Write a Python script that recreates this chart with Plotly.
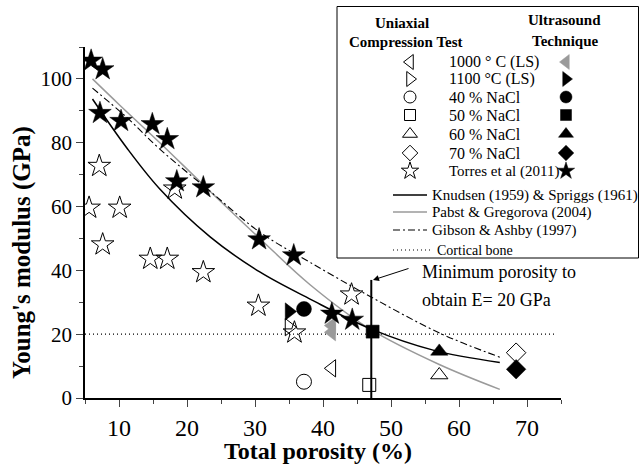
import plotly.graph_objects as go

FONT = "Liberation Serif"
W, H = 640, 468
GRAY = "#9a9a9a"

# ---------------- data ----------------
torres_comp_x = [7.1, 5.6, 10.1, 7.6, 18.2, 14.6, 17.1, 22.4, 30.5, 35.8, 44.2]
torres_comp_y = [72.7, 59.6, 59.6, 48.1, 65.6, 43.6, 43.6, 39.4, 28.9, 20.5, 32.4]
torres_us_x = [5.9, 7.6, 7.2, 10.3, 14.9, 17.1, 18.5, 22.4, 30.6, 35.7, 41.3, 44.3]
torres_us_y = [105.7, 103.0, 89.3, 86.8, 85.8, 81.1, 67.9, 66.0, 49.7, 44.7, 26.4, 24.5]

ls1000_comp_x = [41.3]
ls1000_comp_y = [9.3]
ls1000_us_x = [41.3, 41.3]
ls1000_us_y = [22.7, 20.6]
ls1100_comp_x = [35.0]
ls1100_comp_y = [22.2]
ls1100_us_x = [35.0]
ls1100_us_y = [27.1]
nacl40_comp_x = [37.2]
nacl40_comp_y = [5.1]
nacl40_us_x = [37.2]
nacl40_us_y = [27.9]
nacl50_comp_x = [46.8]
nacl50_comp_y = [4.1]
nacl50_us_x = [47.3]
nacl50_us_y = [20.8]
nacl60_comp_x = [57.1]
nacl60_comp_y = [7.2]
nacl60_us_x = [57.1]
nacl60_us_y = [14.6]
nacl70_comp_x = [68.4]
nacl70_comp_y = [14.2]
nacl70_us_x = [68.4]
nacl70_us_y = [9.0]

knudsen_x = [6.1, 11.1, 16.0, 23.4, 30.7, 38.1, 47.2, 56.2, 66.0]
knudsen_y = [93.7, 78.5, 65.5, 50.5, 39.5, 31.0, 21.5, 15.0, 11.1]
pabst_x = [6.1, 10.0, 16.0, 22.3, 30.7, 38.1, 47.0, 57.1, 66.0]
pabst_y = [100.0, 92.0, 80.0, 67.0, 50.0, 35.5, 21.5, 10.5, 2.7]
gibson_x = [6.1, 11.1, 16.0, 23.0, 30.7, 38.1, 47.2, 57.2, 66.0]
gibson_y = [97.1, 88.0, 78.0, 65.5, 52.0, 42.5, 31.5, 20.3, 12.8]
cortical_x = [5.0, 74.0]
cortical_y = [20.0, 20.0]
min_porosity = 47.1
min_porosity_top = 37.0

group_labels = ["1000 ° C (LS)", "1100 °C (LS)", "40 % NaCl", "50 % NaCl",
                "60 % NaCl", "70 % NaCl", "Torres et al (2011)"]
line_labels = ["Knudsen (1959) & Spriggs (1961)", "Pabst & Gregorova (2004)",
               "Gibson & Ashby (1997)", "Cortical bone"]
x_ticks = [10, 20, 30, 40, 50, 60, 70]
y_ticks = [0, 20, 40, 60, 80, 100]

# ---------------- styles ----------------
symbols = ["triangle-left", "triangle-right", "circle", "square",
           "triangle-up", "diamond", "star"]
fill_colors = [GRAY, "black", "black", "black", "black", "black", "black"]
main_sizes = [15, 15, 15, 13, 15, 15, 17]
leg_sizes = [13, 13, 12, 11, 13, 12, 13]
DOT = "1px,3px"
DASHDOT = "7px,3px,2px,3px"

comp_x = [ls1000_comp_x, ls1100_comp_x, nacl40_comp_x, nacl50_comp_x,
          nacl60_comp_x, nacl70_comp_x, torres_comp_x]
comp_y = [ls1000_comp_y, ls1100_comp_y, nacl40_comp_y, nacl50_comp_y,
          nacl60_comp_y, nacl70_comp_y, torres_comp_y]
us_x = [ls1000_us_x, ls1100_us_x, nacl40_us_x, nacl50_us_x,
        nacl60_us_x, nacl70_us_x, torres_us_x]
us_y = [ls1000_us_y, ls1100_us_y, nacl40_us_y, nacl50_us_y,
        nacl60_us_y, nacl70_us_y, torres_us_y]

fig = go.Figure()

# model curves
fig.add_trace(go.Scatter(x=cortical_x, y=cortical_y, mode="lines",
                         line=dict(color="black", width=1.2, dash=DOT),
                         showlegend=False))
fig.add_trace(go.Scatter(x=pabst_x, y=pabst_y, mode="lines",
                         line=dict(color=GRAY, width=1.5, shape="spline"),
                         showlegend=False))
fig.add_trace(go.Scatter(x=gibson_x, y=gibson_y, mode="lines",
                         line=dict(color="black", width=1.1, shape="spline",
                                   dash=DASHDOT),
                         showlegend=False))
fig.add_trace(go.Scatter(x=knudsen_x, y=knudsen_y, mode="lines",
                         line=dict(color="black", width=1.5, shape="spline"),
                         showlegend=False))
fig.add_trace(go.Scatter(x=[min_porosity, min_porosity], y=[0, min_porosity_top],
                         mode="lines", line=dict(color="black", width=2),
                         showlegend=False))

# markers
for i in range(len(symbols)):
    fig.add_trace(go.Scatter(
        x=comp_x[i], y=comp_y[i], mode="markers", showlegend=False,
        marker=dict(symbol=symbols[i] + "-open", size=main_sizes[i],
                    color="black", line=dict(color="black", width=1))))
for i in range(len(symbols)):
    fig.add_trace(go.Scatter(
        x=us_x[i], y=us_y[i], mode="markers", showlegend=False,
        marker=dict(symbol=symbols[i], size=main_sizes[i],
                    color=fill_colors[i], line=dict(color=fill_colors[i], width=0.5))))

# ---------------- custom legend (pixel space overlay axes) ----------------
row_y = [62, 79, 97, 115, 134, 153, 171]
for i in range(len(symbols)):
    fig.add_trace(go.Scatter(
        x=[410], y=[row_y[i]], xaxis="x2", yaxis="y2", mode="markers",
        showlegend=False,
        marker=dict(symbol=symbols[i] + "-open", size=leg_sizes[i],
                    color="black", line=dict(color="black", width=1))))
    fig.add_trace(go.Scatter(
        x=[566], y=[row_y[i]], xaxis="x2", yaxis="y2", mode="markers",
        showlegend=False,
        marker=dict(symbol=symbols[i], size=leg_sizes[i],
                    color=fill_colors[i], line=dict(color=fill_colors[i], width=0.5))))

line_y = [195, 212, 230, 250]
line_styles = [dict(color="black", width=1.5),
               dict(color=GRAY, width=1.5),
               dict(color="black", width=1.1, dash=DASHDOT),
               dict(color="black", width=1.2, dash=DOT)]
line_x1 = [427, 427, 427, 430]
for i in range(4):
    fig.add_trace(go.Scatter(
        x=[393, line_x1[i]], y=[line_y[i], line_y[i]], xaxis="x2", yaxis="y2",
        mode="lines", line=line_styles[i], showlegend=False))

annotations = []


def txt(x, y, s, size=16, xanchor="left", **kw):
    annotations.append(dict(x=x, y=y, xref="x2", yref="y2", text=s,
                            showarrow=False, xanchor=xanchor, yanchor="middle",
                            font=dict(family=FONT, size=size, color="black"), **kw))


txt(402, 23, "<b>Uniaxial</b>", size=15, xanchor="center")
txt(406, 42, "<b>Compression Test</b>", size=15, xanchor="center")
txt(564, 20, "<b>Ultrasound</b>", size=15, xanchor="center")
txt(565, 41, "<b>Technique</b>", size=15, xanchor="center")
for i, lab in enumerate(group_labels):
    txt(447, row_y[i], lab, size=16 if i < 6 else 15)
line_text_x = [430, 430, 430, 435]
line_text_size = [15, 15, 15, 14]
for i, lab in enumerate(line_labels):
    txt(line_text_x[i], line_y[i], lab, size=line_text_size[i])

txt(420, 272, "Minimum porosity to", size=18)
txt(420, 300, "obtain E= 20 GPa", size=18)
txt(318, 451, "<b>Total porosity (%)</b>", size=24, xanchor="center")
txt(22, 253, "<b>Young's modulus (GPa)</b>", size=25, xanchor="center", textangle=-90)

annotations.append(dict(x=373, y=280, xref="x2", yref="y2", ax=410, ay=268,
                        axref="x2", ayref="y2", text="", showarrow=True,
                        arrowhead=2, arrowsize=1.2, arrowwidth=1, arrowcolor="black"))

fig.update_layout(
    width=W, height=H, template="none",
    margin=dict(l=0, r=0, t=0, b=0),
    paper_bgcolor="white", plot_bgcolor="rgba(0,0,0,0)",
    showlegend=False,
    font=dict(family=FONT, color="black"),
    xaxis=dict(domain=[85 / W, 561 / W], range=[5, 75], anchor="y",
               tickvals=x_ticks, ticks="outside", ticklen=7, tickwidth=1.2,
               showline=True, linecolor="black", linewidth=1.5, showgrid=False,
               zeroline=False, tickfont=dict(family=FONT, size=24),
               minor=dict(dtick=5, tick0=5, ticks="outside", ticklen=4,
                          tickwidth=1, showgrid=False)),
    yaxis=dict(domain=[70 / H, 421 / H], range=[0, 110], anchor="x",
               tickvals=y_ticks, ticks="outside", ticklen=7, tickwidth=1.2,
               showline=True, linecolor="black", linewidth=1.5, showgrid=False,
               zeroline=False, tickfont=dict(family=FONT, size=21),
               minor=dict(dtick=10, tick0=0, ticks="outside", ticklen=4,
                          tickwidth=1, showgrid=False)),
    xaxis2=dict(domain=[0, 1], range=[0, W], anchor="y2", visible=False,
                fixedrange=True),
    yaxis2=dict(domain=[0, 1], range=[H, 0], anchor="x2", visible=False,
                fixedrange=True),
    shapes=[dict(type="rect", xref="x2", yref="y2", x0=337, x1=638.5, y0=6.5, y1=258,
                 line=dict(color="black", width=1), fillcolor="white", layer="below")],
    annotations=annotations,
)

fig.write_html("out.html")
